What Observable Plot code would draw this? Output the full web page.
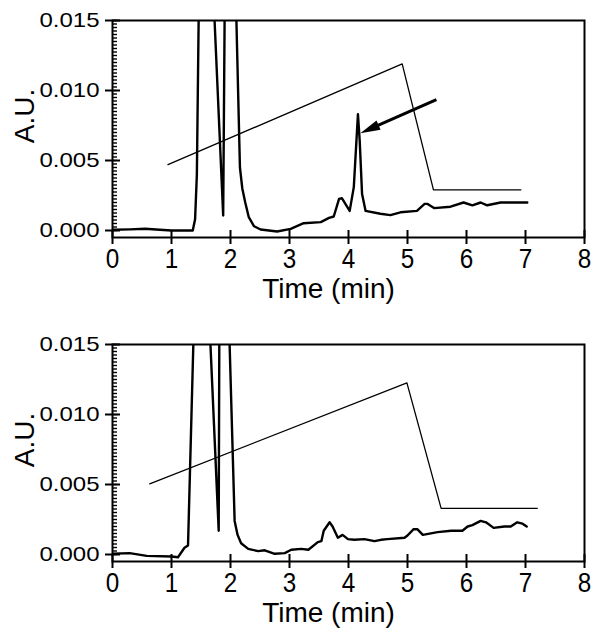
<!DOCTYPE html>
<html>
<head>
<meta charset="utf-8">
<script src="https://cdn.jsdelivr.net/npm/d3@7"></script>
<script src="https://cdn.jsdelivr.net/npm/@observablehq/plot@0.6"></script>
<style>
  html, body { margin: 0; padding: 0; background: #fff; }
  #chart svg { display: block; }
</style>
</head>
<body>
<div id="chart"></div>
<script>
// ---- axis ticks ----
const xTicks = [0, 1, 2, 3, 4, 5, 6, 7, 8];
const yTicks = [0.000, 0.005, 0.010, 0.015];
const yMinorTicks = d3.range(0, 0.01501, 0.00025);
const xLabel = "Time (min)";
const yLabel = "A.U.";

// ---- top chromatogram ----
const topTime = [0, 0.3, 0.55, 0.8, 1.0, 1.2, 1.36, 1.40, 1.43, 1.46, 1.6, 1.73, 1.876, 1.90, 2.0, 2.10, 2.16, 2.20, 2.25, 2.31, 2.40, 2.51, 2.79, 3.02, 3.24, 3.53, 3.67, 3.75, 3.84, 3.89, 4.02, 4.09, 4.16, 4.19, 4.23, 4.29, 4.54, 4.71, 4.88, 5.16, 5.29, 5.34, 5.45, 5.73, 5.95, 6.10, 6.24, 6.35, 6.58, 6.80, 7.03];
const topAU = [0.00005, 0.00008, 0.00012, 0.00005, 0.0, 0.0, 0.0, 0.0008, 0.004, 0.015, 0.05, 0.015, 0.00107, 0.015, 0.05, 0.015, 0.0045, 0.003, 0.002, 0.00095, 0.0003, 0.00007, -0.00007, 0.00012, 0.00052, 0.0006, 0.0009, 0.001, 0.00226, 0.0023, 0.0014, 0.0031, 0.0083, 0.0064, 0.0026, 0.0014, 0.0012, 0.0011, 0.0013, 0.0014, 0.0019, 0.0019, 0.0016, 0.0017, 0.002, 0.0018, 0.002, 0.0018, 0.002, 0.002, 0.002];
const topGradTime = [0.94, 4.91, 5.44, 6.92];
const topGradAU = [0.0047, 0.0119, 0.0029, 0.0029];
const arrowTail = [5.49, 0.00934];
const arrowTip = [4.20, 0.00695];

// ---- bottom chromatogram ----
const botTime = [0, 0.29, 0.58, 1.0, 1.11, 1.22, 1.28, 1.37, 1.5, 1.66, 1.80, 1.81, 1.9, 1.985, 2.07, 2.12, 2.18, 2.30, 2.47, 2.58, 2.75, 2.92, 3.03, 3.20, 3.32, 3.48, 3.54, 3.58, 3.68, 3.73, 3.82, 3.90, 3.99, 4.10, 4.27, 4.44, 4.55, 4.66, 4.95, 5.0, 5.10, 5.17, 5.26, 5.51, 5.74, 5.93, 6.02, 6.10, 6.24, 6.33, 6.46, 6.64, 6.75, 6.86, 6.95, 7.02];
const botAU = [0.00005, 0.0001, -0.0001, -0.00014, -0.0002, 0.00048, 0.00064, 0.015, 0.05, 0.015, 0.0017, 0.015, 0.05, 0.015, 0.0024, 0.0014, 0.0008, 0.0004, 0.00024, 0.0003, 0.00005, 0.0001, 0.00034, 0.0004, 0.00034, 0.00088, 0.00095, 0.0017, 0.0023, 0.002, 0.0012, 0.0014, 0.0011, 0.00105, 0.0011, 0.00095, 0.00105, 0.0011, 0.0012, 0.00136, 0.0018, 0.0018, 0.0014, 0.0016, 0.0017, 0.0017, 0.002, 0.0021, 0.0024, 0.0023, 0.0019, 0.002, 0.002, 0.0023, 0.0022, 0.002];
const botGradTime = [0.63, 4.99, 5.57, 7.20];
const botGradAU = [0.00505, 0.01226, 0.0033, 0.0033];

const FONT = "'Liberation Sans', Arial, Helvetica, sans-serif";

// filled arrowhead symbol with its tip at the origin, pointing up
const headSymbol = {
  draw(ctx) {
    ctx.moveTo(0, 0);
    ctx.lineTo(-5, 20);
    ctx.lineTo(5, 20);
    ctx.closePath();
  }
};

function panel({time, au, gradTime, gradAU, height, arrow}) {
  const trace = time.map((t, i) => ({t, v: au[i]}));
  const grad = gradTime.map((t, i) => ({t, v: gradAU[i]}));
  const marks = [
    Plot.line(grad, {x: "t", y: "v", stroke: "black", strokeWidth: 1.3, clip: true}),
    Plot.line(trace, {x: "t", y: "v", stroke: "black", strokeWidth: 2.4, strokeLinejoin: "round", clip: true}),
    Plot.frame({stroke: "black", strokeWidth: 2}),
    // x ticks crossing the bottom axis
    Plot.ruleX(xTicks, {x: d => d, stroke: "black", strokeWidth: 2, insetTop: 210, insetBottom: -7}),
    // y major ticks crossing the left axis
    Plot.ruleY(yTicks, {y: d => d, stroke: "black", strokeWidth: 2, insetLeft: -7, insetRight: 464}),
    // y minor ticks inside
    Plot.ruleY(yMinorTicks, {y: d => d, stroke: "black", strokeWidth: 1.4, insetRight: 467}),
    Plot.axisX({ticks: xTicks, tickSize: 0, tickPadding: 11, fontSize: 27, label: null, fill: "black"}),
    Plot.axisY({ticks: yTicks, tickSize: 0, tickPadding: 13, fontSize: 21, tickFormat: d3.format(".3f"), label: null, fill: "black"}),
    Plot.text([xLabel], {text: d => d, frameAnchor: "bottom", dx: -20, dy: 52, fontSize: 28, textAnchor: "middle", lineAnchor: "middle", fill: "black"}),
    Plot.text([yLabel], {text: d => d, frameAnchor: "left", dx: -87, dy: -13, rotate: -90, fontSize: 28, textAnchor: "middle", lineAnchor: "middle", fill: "black"})
  ];
  if (arrow) {
    const f = 0.15;
    const sx = arrowTip[0] + f * (arrowTail[0] - arrowTip[0]);
    const sy = arrowTip[1] + f * (arrowTail[1] - arrowTip[1]);
    marks.push(
      Plot.link([0], {x1: () => arrowTail[0], y1: () => arrowTail[1], x2: () => sx, y2: () => sy, stroke: "black", strokeWidth: 3}),
      Plot.dot([0], {x: () => arrowTip[0], y: () => arrowTip[1], symbol: headSymbol, r: 5, rotate: 246, fill: "black", stroke: "none"})
    );
  }
  const svg = Plot.plot({
    width: 600,
    height,
    marginLeft: 112,
    marginRight: 16,
    marginTop: 20,
    marginBottom: height - 237,
    style: {fontFamily: FONT, fontSize: "21px", color: "black", background: "white", overflow: "visible"},
    x: {domain: [0, 8]},
    y: {domain: [-0.0005, 0.015]},
    marks
  });
  svg.querySelectorAll('g[aria-label="y-axis tick label"] text').forEach(t => {
    t.setAttribute("textLength", 60);
    t.setAttribute("lengthAdjust", "spacingAndGlyphs");
  });
  svg.querySelectorAll('g[aria-label="x-axis tick label"] text').forEach(t => {
    t.setAttribute("textLength", 13.5);
    t.setAttribute("lengthAdjust", "spacingAndGlyphs");
  });
  return svg;
}

const chart = document.getElementById("chart");
chart.appendChild(panel({time: topTime, au: topAU, gradTime: topGradTime, gradAU: topGradAU, height: 324, arrow: true}));
chart.appendChild(panel({time: botTime, au: botAU, gradTime: botGradTime, gradAU: botGradAU, height: 310, arrow: false}));
</script>
</body>
</html>
